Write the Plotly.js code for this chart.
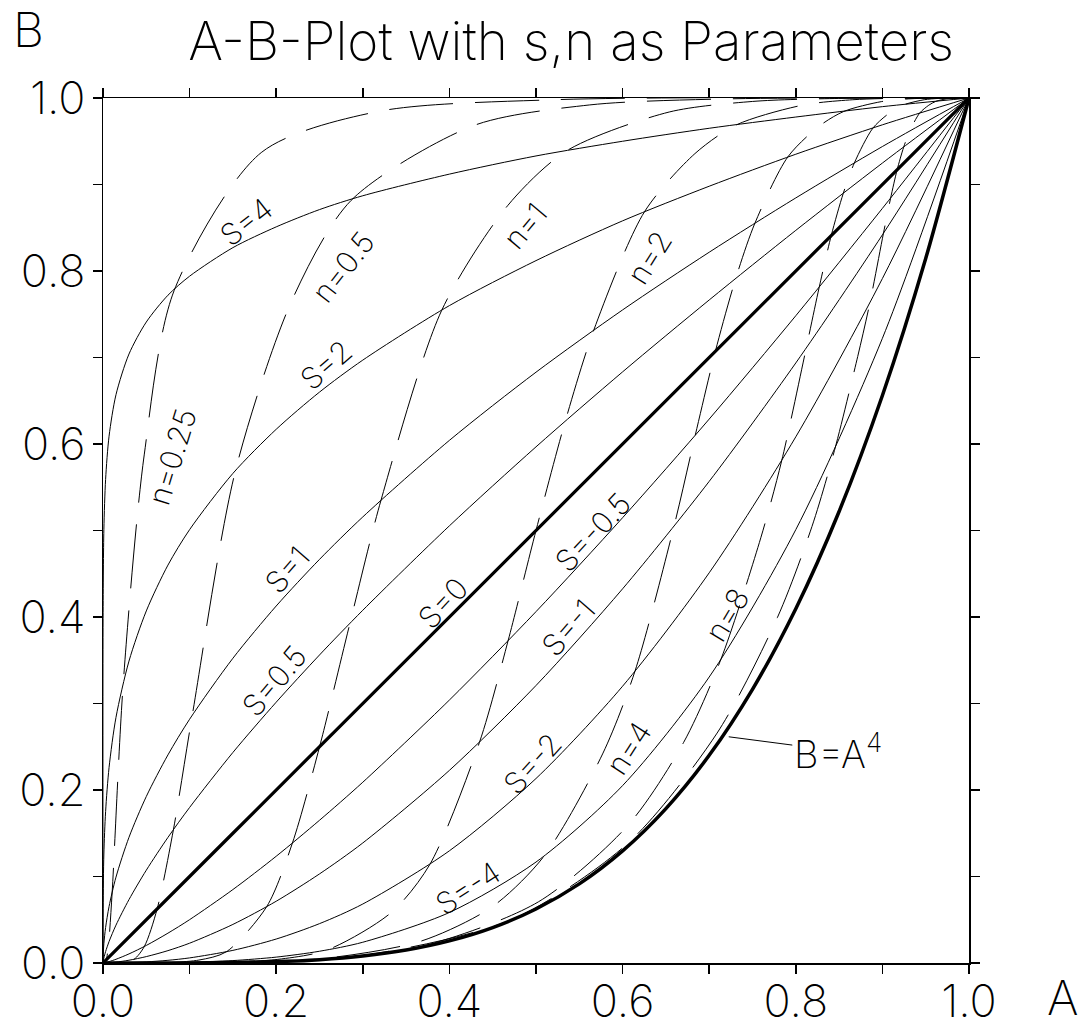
<!DOCTYPE html>
<html><head><meta charset="utf-8">
<script src="https://cdn.plot.ly/plotly-3.0.1.min.js"></script>
<style>html,body{margin:0;padding:0;background:#fff}</style>
</head><body><div id="chart" style="width:1088px;height:1029px"></div>
<script>
// ---- s-family (solid): common A grid, B read per curve ----
const aGrid = [0, 0.0001, 0.001, 0.003, 0.007, 0.015, 0.03, 0.05, 0.075, 0.1, 0.15, 0.2, 0.25, 0.3, 0.4, 0.5, 0.6, 0.7, 0.8, 0.9, 1];
const bS4   = [0, 0.398, 0.501, 0.559, 0.609, 0.657, 0.704, 0.741, 0.772, 0.794, 0.827, 0.851, 0.871, 0.887, 0.912, 0.933, 0.950, 0.965, 0.978, 0.990, 1];
const bS2   = [0, 0.063, 0.126, 0.175, 0.226, 0.284, 0.349, 0.407, 0.460, 0.501, 0.566, 0.617, 0.660, 0.697, 0.760, 0.812, 0.858, 0.898, 0.935, 0.969, 1];
const bS1   = [0, 0.0063, 0.0224, 0.041, 0.0653, 0.0993, 0.1453, 0.1925, 0.2406, 0.2818, 0.3523, 0.4127, 0.4666, 0.5157, 0.6042, 0.6830, 0.7550, 0.8217, 0.8845, 0.9439, 1];
const bS05  = [0, 0.0011, 0.0058, 0.0132, 0.0248, 0.0438, 0.0733, 0.1073, 0.1452, 0.1798, 0.2434, 0.3015, 0.3561, 0.4078, 0.5054, 0.5967, 0.6834, 0.7665, 0.8470, 0.9248, 1];
const bS0   = [0, 0.0001, 0.001, 0.003, 0.007, 0.015, 0.03, 0.05, 0.075, 0.1, 0.15, 0.2, 0.25, 0.3, 0.4, 0.5, 0.6, 0.7, 0.8, 0.9, 1];
const bSm05 = [0, 0, 0.0001, 0.0005, 0.0016, 0.0043, 0.0105, 0.0203, 0.0345, 0.0501, 0.0849, 0.1234, 0.1650, 0.2090, 0.3040, 0.4062, 0.5148, 0.6288, 0.7483, 0.8724, 1];
const bSm1  = [0, 0, 0, 0.0001, 0.0003, 0.0010, 0.0032, 0.0074, 0.0143, 0.0229, 0.0446, 0.0714, 0.1030, 0.1388, 0.2227, 0.3208, 0.4326, 0.5568, 0.6937, 0.8418, 1];
const bSm2  = [0, 0, 0, 0, 0, 0.0001, 0.0004, 0.0013, 0.0031, 0.0059, 0.0146, 0.0277, 0.0455, 0.0682, 0.1297, 0.2133, 0.3200, 0.4511, 0.6083, 0.7913, 1];
const bSm4  = [0, 0, 0, 0, 0, 0, 0, 0.0001, 0.0003, 0.0008, 0.0028, 0.0068, 0.0136, 0.0240, 0.0584, 0.1167, 0.2051, 0.3306, 0.5010, 0.7222, 1];

// ---- limiting curve B = A^4 (thick) ----
const aPow = [0, 0.1, 0.2, 0.25, 0.3, 0.35, 0.4, 0.45, 0.5, 0.55, 0.6, 0.65, 0.7, 0.75, 0.8, 0.85, 0.9, 0.95, 1];
const bPow = [0, 0.0001, 0.0016, 0.0039, 0.0081, 0.0150, 0.0256, 0.0410, 0.0625, 0.0915, 0.1296, 0.1785, 0.2401, 0.3164, 0.4096, 0.5220, 0.6561, 0.8145, 1];

// ---- n-family (dashed) ----
const aN025 = [1, 0.521, 0.316, 0.1827, 0.0821, 0.0476, 0.0234, 0.0106, 0.0066, 0.0039, 0.0023, 0];
const bN025 = [1, 0.998, 0.9841, 0.9369, 0.7773, 0.5874, 0.3237, 0.0821, 0.0238, 0.0039, 0.0004, 0];
const aN05 = [1, 0.7218, 0.5621, 0.4274, 0.2865, 0.2183, 0.1529, 0.1031, 0.0813, 0.0625, 0.0478, 0.0357, 0.0202, 0.0123, 0.0045, 0];
const bN05 = [1, 0.999, 0.992, 0.9679, 0.8816, 0.7664, 0.5689, 0.2865, 0.1541, 0.0625, 0.0192, 0.0042, 0.0002, 0, 0, 0];
const aN1 = [1, 0.8496, 0.7498, 0.6538, 0.5353, 0.4672, 0.391, 0.3211, 0.2851, 0.2501, 0.2187, 0.189, 0.1423, 0.1108, 0.0672, 0.0408, 0.0183, 0];
const bN1 = [1, 0.9995, 0.996, 0.9838, 0.9389, 0.8755, 0.7543, 0.5353, 0.3926, 0.2501, 0.1386, 0.0651, 0.0129, 0.0034, 0.0002, 0, 0, 0];
const aN2 = [1, 0.9217, 0.8659, 0.8086, 0.7316, 0.6835, 0.6253, 0.5667, 0.5339, 0.5, 0.4677, 0.4347, 0.3772, 0.3329, 0.2592, 0.2019, 0.1353, 0.0639, 0.0183, 0];
const bN2 = [1, 0.9998, 0.998, 0.9919, 0.969, 0.9357, 0.8685, 0.7316, 0.6266, 0.5, 0.3723, 0.2551, 0.1136, 0.0584, 0.0152, 0.0042, 0.0007, 0, 0, 0];
const aN4 = [1, 0.9601, 0.9305, 0.8992, 0.8553, 0.8268, 0.7908, 0.7528, 0.7307, 0.7071, 0.6839, 0.6594, 0.6142, 0.5769, 0.5092, 0.4493, 0.3679, 0.2528, 0.1353, 0.0498, 0];
const bN4 = [1, 0.9999, 0.999, 0.9959, 0.9844, 0.9673, 0.9319, 0.8553, 0.7916, 0.7071, 0.6102, 0.5051, 0.3371, 0.2417, 0.1234, 0.0649, 0.0255, 0.005, 0.0004, 0, 0];
const aN8 = [1, 0.9798, 0.9646, 0.9483, 0.9249, 0.9093, 0.8892, 0.8676, 0.8548, 0.8409, 0.827, 0.812, 0.7837, 0.7596, 0.7136, 0.6703, 0.6065, 0.5028, 0.3679, 0.2231, 0.0821, 0];
const bN8 = [1, 0.9999, 0.9995, 0.998, 0.9922, 0.9835, 0.9654, 0.9249, 0.8897, 0.8409, 0.7811, 0.7107, 0.5806, 0.4916, 0.3513, 0.2547, 0.1596, 0.0707, 0.0193, 0.0025, 0, 0];
const aN16 = [1, 0.9899, 0.9822, 0.9738, 0.9617, 0.9536, 0.943, 0.9315, 0.9246, 0.917, 0.9094, 0.9011, 0.8853, 0.8715, 0.8447, 0.8187, 0.7788, 0.7091, 0.6065, 0.4724, 0.2865, 0.0821, 0];
const bN16 = [1, 1, 0.9998, 0.999, 0.9961, 0.9917, 0.9825, 0.9617, 0.9432, 0.917, 0.8838, 0.843, 0.762, 0.7012, 0.5927, 0.5047, 0.3995, 0.2658, 0.1388, 0.0504, 0.0067, 0, 0];

// ---- curve labels ----
const labelText = ['S=4', 'n=0.5', 'S=2', 'n=1', 'n=2', 'n=0.25', 'S=1', 'S=0.5', 'S=0', 'S=-0.5', 'S=-1', 'S=-2', 'S=-4', 'n=4', 'n=8'];
const labelA = [0.165, 0.277, 0.2575, 0.487, 0.6305, 0.0797, 0.2125, 0.1975, 0.3926, 0.566, 0.538, 0.4965, 0.4215, 0.607, 0.7206];
const labelB = [0.857, 0.805, 0.691, 0.852, 0.815, 0.585, 0.454, 0.326, 0.416, 0.498, 0.388, 0.231, 0.0867, 0.2486, 0.402];
const labelAngle = [-38, -52, -41, -50, -58, -73, -49, -50, -47, -47, -49, -48, -33, -57, -59];

const FONT = 'Inter, DejaVu Sans, sans-serif';
const W = 200;
const traces = [];
const dashed = [[aN025,bN025],[aN05,bN05],[aN1,bN1],[aN2,bN2],[aN4,bN4],[aN8,bN8],[aN16,bN16]];
dashed.forEach(([a,b]) => traces.push({x:a, y:b, type:'scatter', mode:'lines',
  line:{color:'#000', width:1, dash:'64px,22px', shape:'spline', smoothing:0.8}, hoverinfo:'skip'}));
[bS4,bS2,bS1,bS05,bSm05,bSm1,bSm2,bSm4].forEach(b => traces.push({x:aGrid, y:b, type:'scatter', mode:'lines',
  line:{color:'#000', width:1, shape:'spline', smoothing:0.8}, hoverinfo:'skip'}));
traces.push({x:aGrid, y:bS0, type:'scatter', mode:'lines', line:{color:'#000', width:3.2}, hoverinfo:'skip'});
traces.push({x:aPow, y:bPow, type:'scatter', mode:'lines', line:{color:'#000', width:3.5, shape:'spline', smoothing:0.8}, hoverinfo:'skip'});

const annotations = labelText.map((t,i) => ({x:labelA[i], y:labelB[i], xref:'x', yref:'y', text:t, showarrow:false,
  textangle:labelAngle[i], xanchor:'center', yanchor:'middle', font:{family:FONT, size:30, color:'#000', weight:W}}));
annotations.push({x:0.7157, y:0.2624, xref:'x', yref:'y', text:'B=A<sup>4</sup>', showarrow:true, arrowhead:0,
  arrowwidth:1, arrowcolor:'#000', ax:115, ay:15, standoff:6, font:{family:FONT, size:38, color:'#000', weight:W}});
annotations.push({x:1.1085, y:-0.040, xref:'paper', yref:'paper', text:'A', showarrow:false, xanchor:'center', yanchor:'middle',
  font:{family:FONT, size:48, color:'#000', weight:W}});
annotations.push({x:-0.0866, y:1.079, xref:'paper', yref:'paper', text:'B', showarrow:false, xanchor:'center', yanchor:'middle',
  font:{family:FONT, size:48, color:'#000', weight:W}});

const axisCommon = {range:[0,1], tickmode:'linear', tick0:0, dtick:0.2, tickformat:'.1f', ticks:'outside', ticklen:9,
  tickwidth:1.5, tickcolor:'#000', showline:true, linecolor:'#000', linewidth:1.5, mirror:'ticks', showgrid:false,
  zeroline:false, tickfont:{family:FONT, size:45, color:'#000', weight:W}, fixedrange:true,
  minor:{dtick:0.1, ticks:'outside', ticklen:9, tickwidth:1.5, tickcolor:'#000', showgrid:false}};

const layout = {
  width:1088, height:1029, paper_bgcolor:'#fff', plot_bgcolor:'#fff', showlegend:false,
  margin:{l:103, r:119, t:98, b:66},
  title:{text:'A-B-Plot with s,n as Parameters', x:0.525, xref:'container', xanchor:'center', y:0.96, yref:'container', yanchor:'middle',
    font:{family:FONT, size:53, color:'#000', weight:W}},
  xaxis:Object.assign({}, axisCommon, {ticklabelstandoff:-11}),
  yaxis:Object.assign({}, axisCommon, {ticklabelstandoff:-2}),
  annotations:annotations
};
Plotly.newPlot('chart', traces, layout, {displayModeBar:false, staticPlot:true});
</script></body></html>
